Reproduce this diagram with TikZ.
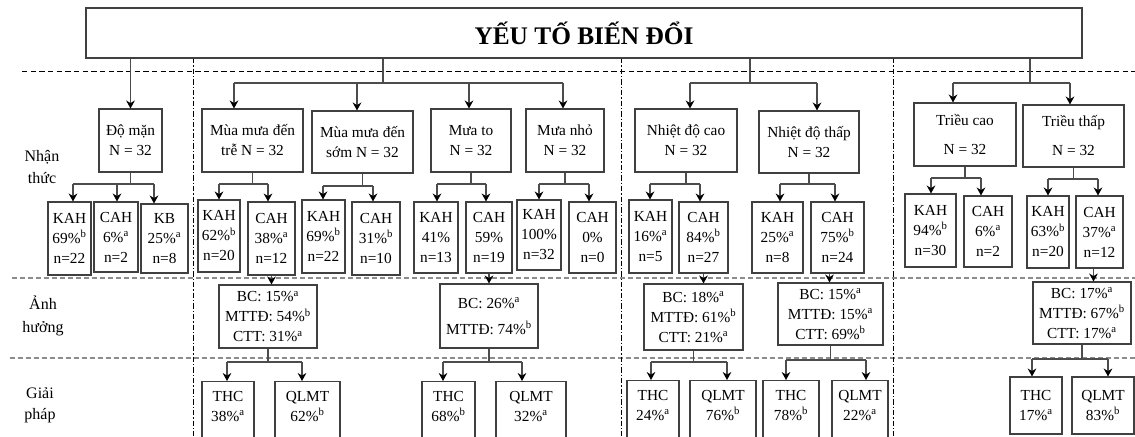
\documentclass[tikz,border=0pt]{standalone}
\usepackage{fontspec}
\setmainfont{Liberation Serif}
\usetikzlibrary{arrows.meta,calc}
\newcommand\supa{\textsuperscript{a}}
\newcommand\supb{\textsuperscript{b}}
% box by pixel corners: name, x1, y1, x2, y2, text
\newcommand\bx[6]{\node[box, minimum width={(#4-#2)*0.75pt}, minimum height={(#5-#3)*0.75pt}] (#1) at ({(#2+#4)/2},{(#3+#5)/2}) {#6};}
% box cut by the lower edge: name, x1, ytop, x2, text
\newcommand\cbx[5]{\node[box, anchor=north, minimum width={(#4-#2)*0.75pt}, inner ysep=7pt] (#1) at ({(#2+#4)/2},#3) {#5\\\rule{0pt}{45pt}};}
% fork: parent, y, xa, childa, xb, childb
\newcommand\forktwo[6]{%
  \coordinate (#1-a) at (#3,#2); \coordinate (#1-b) at (#5,#2);
  \draw[ln] (#1.south) -- (#1.south |- #1-a);
  \draw[ln] (#1-a) -- (#1-b);
  \draw[arr] (#1-a) -- (#1-a |- #4.north);
  \draw[arr] (#1-b) -- (#1-b |- #6.north);}
\begin{document}
\begin{tikzpicture}[x=0.75pt,y=-0.75pt,
  box/.style={draw=black!75, line width=0.8pt, inner sep=0pt, align=center, font=\fontsize{11.5}{15}\selectfont},
  ln/.style={draw=black!70, line width=0.8pt},
  arr/.style={ln, -{Stealth[length=6pt,width=6.5pt,inset=2pt,color=black]}},
  topsep/.style={draw=black, line width=0.7pt, dash pattern=on 4pt off 2.5pt},
  gsep/.style={draw=black!45, line width=0.8pt, dash pattern=on 4pt off 2pt},
  vsep/.style={draw=black, line width=0.7pt, dash pattern=on 4pt off 1.5pt on 1pt off 1.5pt},
  lab/.style={align=center, inner sep=0pt, font=\fontsize{12}{16}\selectfont}]
\clip (0,0) rectangle (1135,436);
\fill[white] (0,0) rectangle (1135,436);

% separators
\draw[topsep] (22,71) -- (1135,71);
\draw[gsep] (12,278) -- (1135,278);
\draw[gsep] (10,358) -- (1135,358);
\draw[vsep] (193,58) -- (193,436);
\draw[vsep] (621,58) -- (621,436);
\draw[vsep] (893,58) -- (893,436);

% title
\node[box, minimum width={996*0.75pt}, minimum height={50*0.75pt}, font=\fontsize{19}{22}\selectfont\bfseries] (top) at (584,33) {YẾU TỐ BIẾN ĐỔI};

% row labels
\node[lab] (lnt) at (42,167) {Nhận\\thức};
\node[lab] (lah) at (43,316) {Ảnh\\[1pt]hưởng};
\node[lab] (lgp) at (40,405) {Giải\\pháp};

% level 1
\bx{dm}{99}{109}{162}{172}{Độ mặn\\N = 32}
\bx{tre}{202}{109}{303}{172}{Mùa mưa đến\\trễ N = 32}
\bx{som}{312}{111}{413}{173}{Mùa mưa đến\\sớm N = 32}
\bx{mto}{431}{109}{511}{172}{Mưa to\\N = 32}
\bx{mnho}{526}{109}{604}{172}{Mưa nhỏ\\N = 32}
\bx{ndc}{635}{109}{737}{172}{Nhiệt độ cao\\N = 32}
\bx{ndt}{759}{111}{859}{173}{Nhiệt độ thấp\\N = 32}
\bx{tc}{914}{103}{1016}{166}{Triều cao\\[6.75pt]N = 32}
\bx{tt}{1023}{105}{1124}{167}{Triều thấp\\[6.75pt]N = 32}

% level 2
\bx{k1}{48}{202}{91}{275}{KAH\\69\%\supb\\n=22}
\bx{c1}{94}{202}{138}{272}{CAH\\6\%\supa\\n=2}
\bx{kb}{141}{204}{188}{273}{KB\\25\%\supa\\n=8}
\bx{k2}{198}{200}{240}{272}{KAH\\62\%\supb\\n=20}
\bx{c2}{248}{202}{295}{275}{CAH\\38\%\supa\\n=12}
\bx{k3}{302}{200}{345}{273}{KAH\\69\%\supb\\n=22}
\bx{c3}{352}{202}{400}{275}{CAH\\31\%\supb\\n=10}
\bx{k4}{414}{202}{458}{273}{KAH\\41\%\\n=13}
\bx{c4}{466}{202}{512}{273}{CAH\\59\%\\n=19}
\bx{k5}{517}{200}{561}{270}{KAH\\100\%\\n=32}
\bx{c5}{569}{202}{616}{273}{CAH\\0\%\\n=0}
\bx{k6}{629}{200}{672}{273}{KAH\\16\%\supa\\n=5}
\bx{c6}{679}{202}{728}{273}{CAH\\84\%\supb\\n=27}
\bx{k7}{752}{202}{803}{273}{KAH\\25\%\supa\\n=8}
\bx{c7}{811}{202}{864}{273}{CAH\\75\%\supb\\n=24}
\bx{k8}{905}{194}{956}{267}{KAH\\94\%\supb\\n=30}
\bx{c8}{964}{196}{1012}{267}{CAH\\6\%\supa\\n=2}
\bx{k9}{1027}{196}{1069}{268}{KAH\\63\%\supb\\n=20}
\bx{c9}{1076}{196}{1123}{268}{CAH\\37\%\supa\\n=12}

% level 3
\bx{bc2}{219}{285}{317}{348}{BC: 15\%\supa\\MTTĐ: 54\%\supb\\CTT: 31\%\supa}
\bx{bc4}{440}{284}{538}{348}{BC: 26\%\supa\\[4.5pt]MTTĐ: 74\%\supb}
\bx{bc6}{644}{284}{743}{350}{BC: 18\%\supa\\MTTĐ: 61\%\supb\\CTT: 21\%\supa}
\bx{bc7}{778}{283}{883}{345}{BC: 15\%\supa\\MTTĐ: 15\%\supa\\CTT: 69\%\supb}
\bx{bc9}{1033}{282}{1131}{344}{BC: 17\%\supa\\MTTĐ: 67\%\supb\\CTT: 17\%\supa}

% level 4
\cbx{th2}{202}{381}{254}{THC\\38\%\supa}
\cbx{ql2}{275}{381}{340}{QLMT\\62\%\supb}
\cbx{th4}{422}{381}{475}{THC\\68\%\supb}
\cbx{ql4}{496}{381}{566}{QLMT\\32\%\supa}
\cbx{th6}{627}{380}{679}{THC\\24\%\supa}
\cbx{ql6}{690}{380}{756}{QLMT\\76\%\supb}
\cbx{th7}{763}{380}{819}{THC\\78\%\supb}
\cbx{ql7}{832}{380}{888}{QLMT\\22\%\supa}
\bx{th9}{1010}{377}{1062}{434}{THC\\17\%\supa}
\bx{ql9}{1072}{377}{1134}{434}{QLMT\\83\%\supb}

% connectors from title
\draw[arr] (top.south -| dm.north) -- (dm.north);
\coordinate (g2) at (383,83);
\coordinate (a-tre) at (234,83);
\coordinate (a-som) at (357,83);
\coordinate (a-mto) at (469,83);
\coordinate (a-mnho) at (563,83);
\draw[ln] (top.south -| g2) -- (g2);
\draw[ln] (a-tre) -- (a-mnho);
\draw[arr] (a-tre) -- (a-tre |- tre.north);
\draw[arr] (a-som) -- (a-som |- som.north);
\draw[arr] (a-mto) -- (a-mto |- mto.north);
\draw[arr] (a-mnho) -- (a-mnho |- mnho.north);
\coordinate (g3) at (750,83);
\coordinate (a-ndc) at (690,83);
\coordinate (a-ndt) at (817,83);
\draw[ln] (top.south -| g3) -- (g3);
\draw[ln] (a-ndc) -- (a-ndt);
\draw[arr] (a-ndc) -- (a-ndc |- ndc.north);
\draw[arr] (a-ndt) -- (a-ndt |- ndt.north);
\coordinate (g4) at (1030,83);
\coordinate (a-tc) at (953,83);
\coordinate (a-tt) at (1070,83);
\draw[ln] (top.south -| g4) -- (g4);
\draw[ln] (a-tc) -- (a-tt);
\draw[arr] (a-tc) -- (a-tc |- tc.north);
\draw[arr] (a-tt) -- (a-tt |- tt.north);

% level 1 -> 2
\coordinate (dm-a) at (73,184); \coordinate (dm-m) at (117,184); \coordinate (dm-b) at (154,184);
\draw[ln] (dm.south) -- (dm.south |- dm-a);
\draw[ln] (dm-a) -- (dm-b);
\draw[arr] (dm-a) -- (dm-a |- k1.north);
\draw[arr] (dm-m) -- (dm-m |- c1.north);
\draw[arr] (dm-b) -- (dm-b |- kb.north);
\forktwo{tre}{184}{219}{k2}{268}{c2}
\forktwo{som}{186}{323}{k3}{373}{c3}
\forktwo{mto}{184}{437}{k4}{486}{c4}
\forktwo{mnho}{184}{539}{k5}{589}{c5}
\forktwo{ndc}{184}{650}{k6}{700}{c6}
\forktwo{ndt}{184}{780}{k7}{835}{c7}
\forktwo{tc}{178}{931}{k8}{981}{c8}
\forktwo{tt}{179}{1048}{k9}{1098}{c9}

% level 2 -> 3
\draw[arr] (c2.south) -- (c2.south |- bc2.north);
\draw[arr] (c4.south) -- (c4.south |- bc4.north);
\draw[arr] (c6.south) -- (c6.south |- bc6.north);
\coordinate (c7x) at ($(c7.south)+(-8,0)$);
\draw[arr] (c7x) -- (c7x |- bc7.north);
\coordinate (c9x) at ($(c9.south)+(-6,0)$);
\draw[arr] (c9x) -- (c9x |- bc9.north);

% level 3 -> 4
\forktwo{bc2}{362}{227}{th2}{302}{ql2}
\forktwo{bc4}{362}{443}{th4}{522}{ql4}
\forktwo{bc6}{362}{651}{th6}{727}{ql6}
\forktwo{bc7}{360}{786}{th7}{866}{ql7}
\forktwo{bc9}{359}{1032}{th9}{1108}{ql9}
\end{tikzpicture}
\end{document}
